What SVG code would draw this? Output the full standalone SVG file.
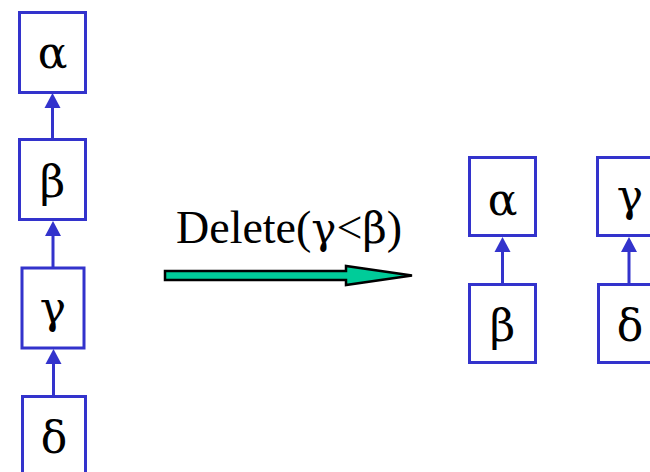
<svg xmlns="http://www.w3.org/2000/svg" width="650" height="472" viewBox="0 0 650 472">
<defs>
<style>
.box{fill:#fff;stroke:#3333cc;stroke-width:3}
.lbl{font-family:"DejaVu Serif","Liberation Serif",serif;font-size:44px;fill:#000;text-anchor:middle}
.gk{font-family:"DejaVu Serif","Liberation Serif",serif;font-size:42px}
.edge{stroke:#3333cc;stroke-width:3;fill:none}
.head{fill:#3333cc}
</style>
</defs>
<rect width="650" height="472" fill="#fff"/>
<g id="connectors">
<line class="edge" x1="52.5" y1="139" x2="52.5" y2="106"/>
<polygon class="head" points="52.5,93 44.5,108 60.5,108"/>
<line class="edge" x1="53" y1="268" x2="53" y2="234"/>
<polygon class="head" points="53,221 45,236 61,236"/>
<line class="edge" x1="53.5" y1="396" x2="53.5" y2="362"/>
<polygon class="head" points="53.5,349 45.5,364 61.5,364"/>
<line class="edge" x1="502.5" y1="284" x2="502.5" y2="250"/>
<polygon class="head" points="502.5,237 494.5,252 510.5,252"/>
<line class="edge" x1="629" y1="284" x2="629" y2="250"/>
<polygon class="head" points="629,237 621,252 637,252"/>
</g>
<g id="left-alpha"><rect class="box" x="19.5" y="12.5" width="66" height="80"/><text class="lbl" x="52.5" y="68">α</text></g>
<g id="left-beta"><rect class="box" x="19.5" y="139.5" width="66" height="80"/><text class="lbl" x="52.5" y="197">β</text></g>
<g id="left-gamma"><rect class="box" x="22" y="268" width="62" height="80"/><text class="lbl" x="53" y="323">γ</text></g>
<g id="left-delta"><rect class="box" x="22.5" y="396.5" width="63" height="80"/><text class="lbl" x="54" y="453">δ</text></g>
<g id="right-alpha"><rect class="box" x="469.5" y="157.5" width="66" height="78"/><text class="lbl" x="502.5" y="215">α</text></g>
<g id="right-beta"><rect class="box" x="469.5" y="284.5" width="66" height="78"/><text class="lbl" x="502.5" y="341">β</text></g>
<g id="right-gamma"><rect class="box" x="597.5" y="157.5" width="66" height="78"/><text class="lbl" x="630" y="211">γ</text></g>
<g id="right-delta"><rect class="box" x="598.5" y="284.5" width="66" height="78"/><text class="lbl" x="630" y="341">δ</text></g>
<g id="delete-arrow">
<polygon points="165,271 346,271 346,266 412,275.5 346,285 346,280 165,280" fill="#00cc99" stroke="#000" stroke-width="2.5" stroke-linejoin="miter"/>
<text x="176" y="243" font-family="'Liberation Serif','DejaVu Serif',serif" font-size="46" fill="#000">Delete(<tspan class="gk">γ</tspan>&lt;<tspan class="gk">β</tspan>)</text>
</g>
</svg>
